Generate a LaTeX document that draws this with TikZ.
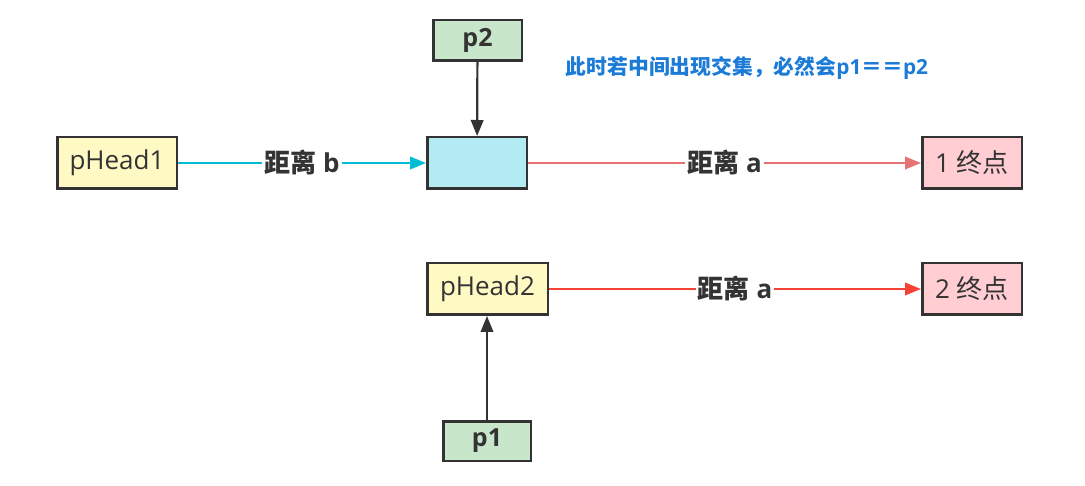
\documentclass[tikz,border=0pt]{standalone}
\usepackage{fontspec}
\setmainfont{Open Sans}
\newfontfamily\cjk{Noto Sans CJK SC}
\usetikzlibrary{arrows.meta}
\definecolor{boxline}{HTML}{333333}
\definecolor{yel}{HTML}{FFF9C4}
\definecolor{cya}{HTML}{B2EBF2}
\definecolor{pnk}{HTML}{FFCDD2}
\definecolor{grn}{HTML}{C8E6C9}
\definecolor{cyline}{HTML}{00BCD4}
\definecolor{pred}{HTML}{E57373}
\definecolor{rred}{HTML}{F44336}
\definecolor{bluetxt}{HTML}{1B7BD6}
\begin{document}
\begin{tikzpicture}[x=1pt,y=1pt,
  box/.style={draw=boxline,line width=2.5pt,inner sep=0pt,text=boxline,font=\fontsize{26}{28}\selectfont},
  ptr/.style={box,font=\fontsize{25}{28}\selectfont\bfseries},
  conn/.style={line width=2.2pt,-{Triangle[length=16pt,width=12.5pt]}},
  lbl/.style={fill=white,inner sep=2pt,text=boxline,font=\fontsize{26}{28}\selectfont\bfseries}]
\useasboundingbox (0,0) rectangle (1085,-486);
\node[box,fill=yel,minimum width=119.5pt,minimum height=51.5pt] (ph1) at (117,-163) {pHead1};
\node[box,fill=cya,minimum width=99.5pt,minimum height=51.5pt] (mid) at (477,-163) {};
\node[ptr,fill=grn,minimum width=88.5pt,minimum height=40.5pt] (p2) at (477.5,-40.5) {p2};
\node[box,fill=pnk,minimum width=99.5pt,minimum height=51.5pt] (e1) at (972,-163) {1 {\cjk 终点}};
\node[box,fill=yel,minimum width=120.5pt,minimum height=51.5pt] (ph2) at (487.5,-289) {pHead2};
\node[box,fill=pnk,minimum width=99.5pt,minimum height=51.5pt] (e2) at (972,-289) {2 {\cjk 终点}};
\node[ptr,fill=grn,minimum width=87.5pt,minimum height=39.5pt] (p1) at (487,-441) {p1};
\node[text=bluetxt,font=\fontsize{20.8}{24}\selectfont\bfseries,inner sep=0pt] (note) at (747,-68) {{\cjk 此时若中间出现交集，必然会}p1{\cjk ＝＝}p2};
\draw[conn,cyline] (ph1) -- node[lbl]{{\cjk 距离} b} (mid);
\draw[conn,pred] (mid) -- node[lbl]{{\cjk 距离} a} (e1);
\draw[conn,rred] (ph2) -- node[lbl]{{\cjk 距离} a} (e2);
\draw[conn,boxline] (p2) -- (mid);
\draw[conn,boxline] (p1) -- (p1 |- ph2.south);
\end{tikzpicture}
\end{document}
